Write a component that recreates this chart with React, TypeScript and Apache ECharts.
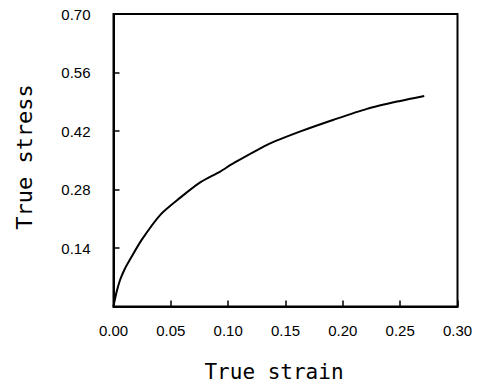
import React, { useEffect, useRef } from "react";
import * as echarts from "echarts";

const strain = [0, 0.001, 0.003, 0.0058, 0.0095, 0.0145, 0.0247, 0.041, 0.058, 0.0756, 0.093, 0.1047, 0.134, 0.163, 0.192, 0.221, 0.25, 0.271];
const stress = [0, 0.014, 0.038, 0.064, 0.088, 0.113, 0.16, 0.22, 0.26, 0.297, 0.323, 0.343, 0.387, 0.419, 0.447, 0.473, 0.492, 0.504];

const xTitle = "True strain";
const yTitle = "True stress";

const TITLE_FONT = "DejaVu Sans Mono";
const TICK_FONT = "Liberation Sans";

export default function App() {
  const ref = useRef<HTMLDivElement>(null);
  useEffect(() => {
    if (!ref.current) return;
    const chart = echarts.init(ref.current, undefined, { renderer: "svg" });
    chart.setOption({
      animation: false,
      backgroundColor: "#ffffff",
      grid: {
        left: 113.5,
        right: 33.5,
        top: 14,
        bottom: 82.5,
        show: true,
        borderColor: "#000",
        borderWidth: 2,
      },
      graphic: [
        {
          type: "text",
          x: 274,
          y: 372,
          style: {
            text: xTitle,
            font: `21px "${TITLE_FONT}"`,
            fill: "#000",
            align: "center",
            verticalAlign: "middle",
          },
        },
        {
          type: "text",
          x: 24,
          y: 157,
          rotation: Math.PI / 2,
          style: {
            text: yTitle,
            font: `22px "${TITLE_FONT}"`,
            fill: "#000",
            align: "center",
            verticalAlign: "middle",
          },
        },
      ],
      xAxis: {
        type: "value",
        min: 0,
        max: 0.3,
        interval: 0.05,
        axisLine: { show: true, lineStyle: { color: "#000", width: 2 } },
        axisTick: { show: true, inside: true, length: 6, lineStyle: { color: "#000", width: 1.5 } },
        axisLabel: {
          fontFamily: TICK_FONT,
          fontSize: 15,
          color: "#000",
          margin: 16,
          formatter: (v: number) => v.toFixed(2),
        },
        splitLine: { show: false },
      },
      yAxis: {
        type: "value",
        min: 0,
        max: 0.7,
        interval: 0.14,
        axisLine: { show: true, lineStyle: { color: "#000", width: 2 } },
        axisTick: { show: true, inside: true, length: 6, lineStyle: { color: "#000", width: 1.5 } },
        axisLabel: {
          fontFamily: TICK_FONT,
          fontSize: 15,
          color: "#000",
          margin: 23,
          formatter: (v: number) => (v === 0 ? "" : v.toFixed(2)),
        },
        splitLine: { show: false },
      },
      series: [
        {
          type: "line",
          data: strain.map((s, i) => [s, stress[i]]),
          showSymbol: false,
          smooth: 0.25,
          lineStyle: { color: "#000", width: 2 },
        },
      ],
    });
    return () => chart.dispose();
  }, []);
  return (
    <div style={{ position: "fixed", left: 0, top: 0, width: 491, height: 389, background: "#fff" }}>
      <div ref={ref} style={{ width: 491, height: 389 }} />
    </div>
  );
}
